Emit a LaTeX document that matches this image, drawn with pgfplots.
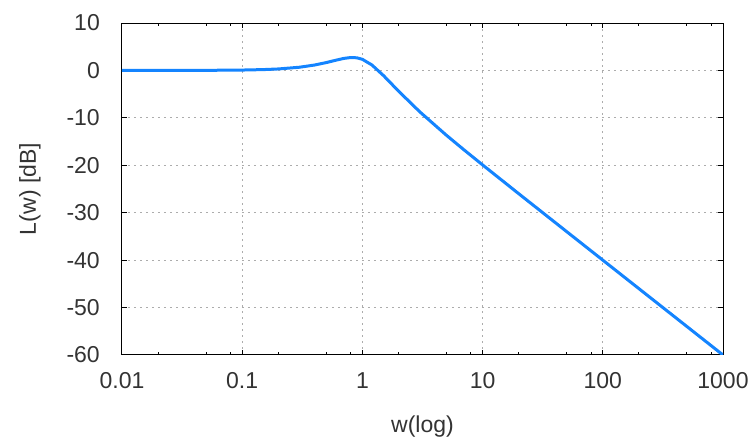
\documentclass[border=0pt]{standalone}
\usepackage{fontspec}
\setmainfont{Liberation Sans}
\usepackage{pgfplots}
\pgfplotsset{compat=1.18}
\definecolor{curve}{RGB}{20,132,255}
\begin{document}
\begin{tikzpicture}[x=1pt,y=1pt]
\path[use as bounding box] (-122,-86) rectangle (628,355);
\begin{semilogxaxis}[
  at={(0,0)}, anchor=south west,
  width=601pt, height=332pt, scale only axis,
  xmin=0.01, xmax=1000, ymin=-60, ymax=10,
  xtick={0.01,0.1,1,10,100,1000},
  xticklabels={0.01,0.1,1,10,100,1000},
  minor xtick={0.02,0.05,0.08,0.2,0.5,0.8,2,5,8,20,50,80,200,500,800},
  ytick={-60,-50,-40,-30,-20,-10,0,10},
  yticklabels={-60,-50,-40,-30,-20,-10,0,10},
  tick label style={font=\fontsize{23}{27}\selectfont, text=black!80, inner sep=0pt},
  label style={font=\fontsize{23}{27}\selectfont, text=black!80},
  xlabel={w(log)}, ylabel={L(w) [dB]},
  xlabel style={at={(axis description cs:0.5,-0.217)}, anchor=center},
  ylabel style={at={(axis description cs:-0.153,0.5)}, anchor=center},
  xticklabel style={anchor=center, yshift=-26pt},
  yticklabel style={anchor=east, xshift=-22pt},
  grid=major,
  major grid style={gray!65, line width=1pt, dash pattern=on 2pt off 4pt},
  axis line style={black, line width=1pt},
  tick align=inside,
  major tick length=5pt, minor tick length=3pt,
  every tick/.style={black, line width=1pt},
]
\addplot[curve, line width=3pt] table {
x y
0.01 0.000
0.02 0.003
0.05 0.020
0.1 0.079
0.15 0.177
0.2 0.310
0.3 0.675
0.4 1.140
0.5 1.654
0.6 2.147
0.7 2.532
0.8 2.723
0.9 2.661
1 2.342
1.2 1.148
1.5 -1.100
2 -4.367
3 -8.721
5 -13.669
7 -16.742
10 -19.921
20 -26.001
50 -33.976
100 -39.999
200 -46.021
500 -53.979
1000 -60.000
};
\end{semilogxaxis}
\end{tikzpicture}
\end{document}
